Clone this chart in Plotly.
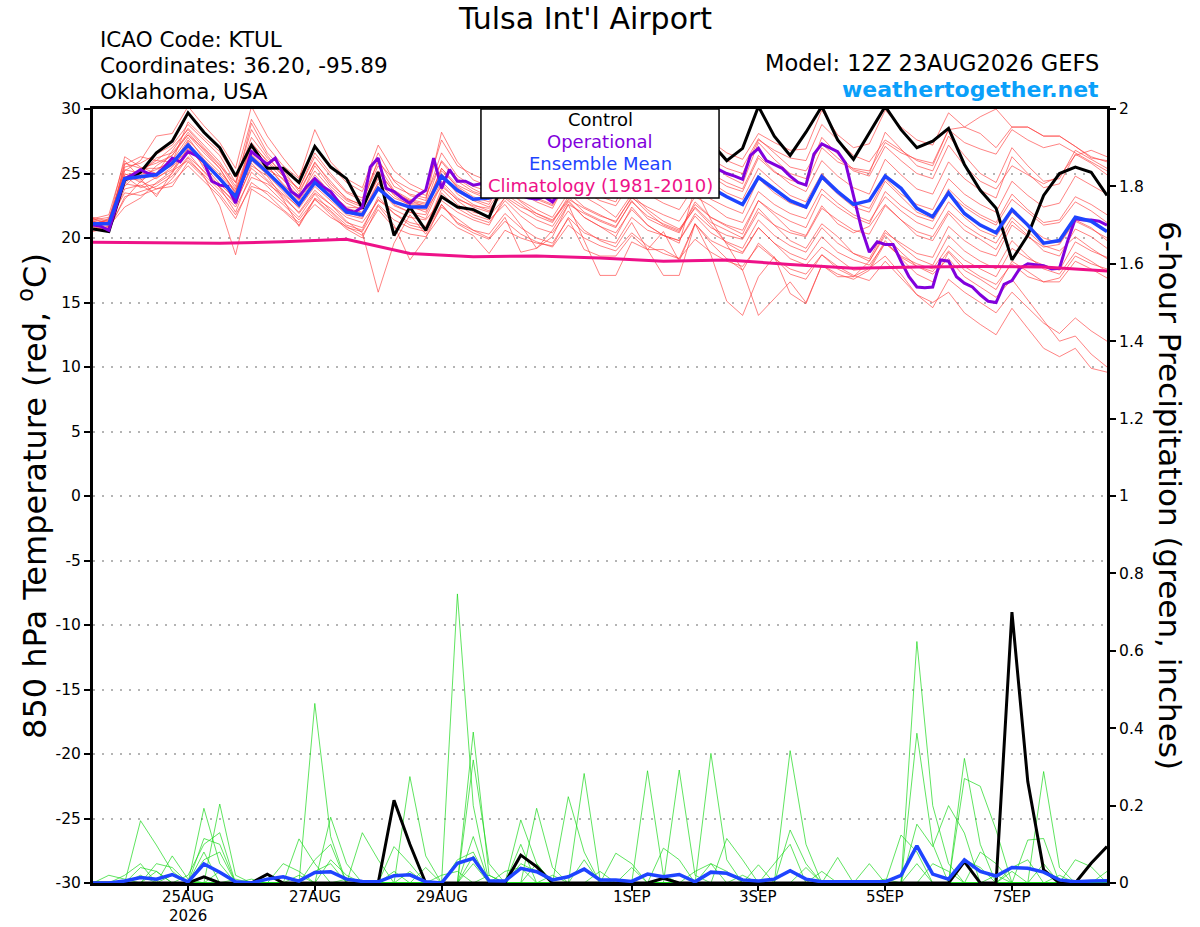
import pandas as pd
import plotly.graph_objects as go

# time axes (GEFS 6-hourly, operational 3-hourly, climatology daily)
times6 = pd.date_range("2026-08-23 12:00", periods=65, freq="6h")
times3 = pd.date_range("2026-08-23 12:00", periods=129, freq="3h")
times_clim = pd.date_range("2026-08-23 12:00", periods=17, freq="D")

tick_dates = ["2026-08-25", "2026-08-27", "2026-08-29", "2026-09-01",
              "2026-09-03", "2026-09-05", "2026-09-07"]
tick_labels = ["25AUG", "27AUG", "29AUG", "1SEP", "3SEP", "5SEP", "7SEP"]
year_label = "2026"
temp_ticks = [-30, -25, -20, -15, -10, -5, 0, 5, 10, 15, 20, 25, 30]
pcp_ticks = [0, 0.2, 0.4, 0.6, 0.8, 1, 1.2, 1.4, 1.6, 1.8, 2]

# 850 hPa temperature (C)
control_t = [20.7, 20.5, 24.5, 25.1, 26.6, 27.5, 29.7, 28.2, 27.0, 24.8, 27.2, 25.4, 25.4,
             24.3, 27.1, 25.5, 24.6, 22.3, 25.1, 20.2, 22.4, 20.6, 23.2, 22.4, 22.2, 21.6,
             24.6, 25.5, 26.2, 25.0, 26.8, 27.3, 25.8, 26.4, 27.4, 26.3, 25.7, 27.5, 27.3,
             27.4, 26.0, 26.95, 30.2, 27.9, 26.4, 28.2, 30.2, 27.6, 26.1, 28.1, 30.2, 28.4,
             27.0, 27.5, 28.5, 25.7, 23.7, 22.3, 18.3, 20.2, 23.3, 25.0, 25.5, 25.1, 23.3]

oper_t = [21.0, 20.9, 20.6, 22.6, 24.6, 24.9, 25.3, 25.0, 24.9, 25.5, 26.2, 25.9, 26.7,
          26.4, 25.9, 24.4, 24.1, 24.0, 22.7, 24.7, 26.7, 26.2, 25.7, 26.2, 25.0, 23.6,
          23.2, 24.0, 24.6, 24.0, 23.6, 22.8, 22.2, 22.0, 22.4, 25.5, 26.2, 23.85, 23.6,
          23.1, 22.7, 23.3, 23.7, 26.2, 23.85, 25.3, 24.4, 24.4, 24.1, 24.2, 24.0, 23.8,
          23.6, 23.5, 23.3, 23.1, 23.0, 23.2, 22.8,
          23.6, 24.3, 24.8, 24.4, 24.0, 23.8, 24.6, 25.3, 25.0, 24.6, 24.2, 24.0, 24.9,
          25.6, 25.2, 24.8, 24.5, 24.4, 25.2, 25.8, 25.3,
          25.0, 24.8, 24.55, 26.4, 26.95, 26.0, 25.7, 25.4, 24.8, 24.3, 24.1, 26.5, 27.3,
          27.0, 26.7, 25.8, 23.3, 20.75, 18.9, 19.7, 19.5, 19.5, 18.2, 17.0, 16.2, 16.15,
          16.2, 18.3, 18.2, 17.0, 16.5, 16.2, 15.6, 15.1, 15.0, 16.4, 16.7, 17.65, 18.0,
          17.9, 17.85, 17.6, 17.65, 19.7, 21.5, 21.4, 21.4, 21.3, 21.0]

mean_t = [21.1, 21.1, 24.6, 24.75, 24.9, 25.8, 27.2, 25.9, 24.6, 23.2, 26.2, 25.1, 23.9,
          22.6, 24.3, 23.2, 22.0, 21.8, 23.85, 22.8, 22.4, 22.4, 24.8, 23.7, 23.0, 23.1,
          23.5, 24.0, 24.3, 23.8, 24.5, 24.8, 24.2, 24.0, 24.6, 24.3, 23.8, 24.2, 24.5,
          23.9, 23.2, 22.6, 24.7, 23.8, 22.9, 22.4, 24.75, 23.6, 22.6, 22.9, 24.8, 23.85,
          22.3, 21.65, 23.5, 21.9, 21.0, 20.4, 22.2, 21.0, 19.6, 19.8, 21.6, 21.3, 20.5]

clim_t = [19.67, 19.65, 19.6, 19.7, 19.9, 18.8, 18.55, 18.6, 18.45, 18.2, 18.3, 17.95,
          17.65, 17.75, 17.8, 17.75, 17.45]

# ensemble members, temperature
t_m01 = [21.3, 21.0, 25.5, 25.8, 26.5, 27.2, 28.8, 27.6, 26.4, 24.3, 27.8, 26.2, 25.0, 23.8, 26.3, 24.8,
         23.5, 22.9, 25.6, 23.7, 23.0, 22.7, 26.0, 24.6, 23.8, 23.2, 25.4, 24.8, 24.0, 23.5, 26.2, 25.3,
         24.4, 24.0, 26.6, 25.2, 24.3, 24.8, 27.0, 25.9, 24.8, 24.2, 27.4, 26.1, 25.0, 24.6, 27.8, 26.5,
         25.3, 25.0, 28.2, 26.9, 25.6, 25.2, 27.9, 26.4, 25.0, 24.3, 27.0, 25.6, 24.4, 24.6, 26.8, 26.1, 25.4]
t_m02 = [20.6, 20.9, 23.8, 24.1, 23.4, 24.6, 26.2, 24.8, 22.5, 18.7, 23.8, 23.0, 22.1, 21.0, 23.1, 22.3,
         21.2, 20.8, 23.0, 21.9, 21.0, 20.7, 23.8, 22.6, 21.8, 21.4, 22.6, 21.0, 19.2, 20.6, 22.6, 21.9,
         21.3, 20.8, 22.9, 21.5, 20.9, 20.4, 22.8, 21.6, 20.9, 20.3, 22.9, 21.8, 20.6, 20.2, 22.5, 21.1,
         20.4, 20.9, 22.6, 21.4, 20.2, 19.8, 21.9, 20.6, 19.9, 19.1, 21.3, 20.2, 19.0, 18.6, 20.7, 20.1, 19.2]
t_m03 = [21.5, 21.8, 26.0, 24.6, 23.2, 25.1, 27.5, 25.4, 24.0, 22.6, 25.6, 24.8, 23.1, 22.0, 23.7, 22.6,
         21.3, 20.4, 15.8, 19.6, 21.8, 20.3, 22.4, 21.5, 20.6, 20.0, 21.6, 18.9, 19.2, 20.1, 22.6, 19.8,
         17.1, 17.1, 19.7, 19.1, 20.5, 18.2, 21.1, 19.6, 18.4, 17.5, 19.6, 18.5, 17.2, 16.8, 18.7, 17.6,
         17.0, 17.65, 19.8, 18.4, 17.2, 16.6, 18.9, 17.5, 16.8, 16.0, 18.2, 17.4, 16.6, 16.9, 18.6, 18.0, 17.6]
t_m04 = [21.0, 21.4, 25.2, 26.0, 27.9, 28.1, 30.2, 28.7, 27.4, 25.4, 30.2, 27.9, 26.2, 24.7, 27.0, 25.6,
         24.3, 23.6, 26.6, 24.4, 23.3, 22.9, 28.2, 25.9, 24.5, 24.0, 27.2, 26.0, 25.1, 24.7, 27.8, 26.6,
         25.4, 25.0, 28.3, 27.0, 25.9, 25.3, 28.6, 27.5, 26.6, 26.1, 28.1, 27.4, 26.8, 26.9, 29.9, 28.0,
         27.0, 27.3, 29.9, 28.6, 27.6, 27.2, 29.7, 28.6, 28.1, 27.0, 28.6, 28.6, 27.9, 27.9, 27.1, 26.2, 26.0]
t_m05 = [20.9, 20.7, 24.4, 24.9, 25.3, 26.0, 27.8, 26.1, 24.9, 23.6, 26.8, 25.6, 24.2, 22.9, 24.6, 23.4,
         22.3, 22.0, 24.3, 23.1, 22.6, 22.4, 25.2, 24.0, 23.2, 22.8, 24.6, 23.9, 23.0, 22.5, 24.4, 23.2,
         22.5, 21.6, 23.4, 22.2, 21.3, 20.7, 22.3, 21.0, 19.6, 18.9, 20.8, 19.6, 18.4, 17.9, 19.3, 18.4,
         17.5, 17.65, 18.6, 17.2, 15.6, 15.0, 15.8, 14.2, 13.3, 12.5, 14.55, 13.0, 11.45, 10.8, 11.45, 9.9, 9.6]
t_m06 = [21.2, 21.1, 24.9, 25.1, 24.6, 25.5, 26.9, 25.8, 24.5, 22.9, 26.0, 24.9, 23.6, 22.3, 24.0, 22.9,
         21.8, 21.5, 23.9, 22.5, 22.0, 21.8, 24.4, 23.1, 22.4, 22.0, 23.8, 22.9, 22.2, 21.6, 23.5, 22.4,
         21.8, 21.2, 23.2, 22.0, 21.0, 20.5, 22.4, 21.2, 20.6, 20.0, 22.3, 21.0, 19.8, 19.2, 21.1, 20.1,
         18.8, 18.2, 20.2, 18.9, 17.8, 17.2, 18.4, 17.0, 16.2, 15.4, 16.8, 15.2, 13.6, 12.0, 12.4, 11.0, 10.0]
t_m07 = [21.4, 21.6, 25.0, 24.3, 25.6, 26.4, 28.0, 26.6, 25.4, 23.4, 27.4, 25.9, 24.5, 23.2, 25.2, 23.8,
         22.7, 22.2, 24.8, 23.3, 22.5, 22.0, 25.0, 23.4, 22.6, 22.1, 23.9, 22.8, 21.9, 21.3, 22.9, 21.6,
         20.9, 20.1, 22.4, 21.0, 20.2, 19.6, 23.9, 21.4, 19.5, 17.5, 14.0, 15.3, 16.6, 15.0, 17.9, 17.2,
         16.8, 17.5, 19.6, 18.6, 18.0, 17.6, 19.4, 18.3, 17.6, 17.0, 19.2, 18.4, 17.9, 17.5, 19.7, 19.0, 18.5]
t_m08 = [20.8, 20.6, 23.2, 23.6, 24.0, 24.8, 26.3, 25.2, 23.9, 22.0, 25.1, 24.0, 22.8, 21.6, 23.4, 22.1,
         21.0, 20.6, 23.2, 21.9, 21.2, 20.9, 23.5, 22.3, 21.6, 21.2, 22.9, 21.7, 20.8, 20.4, 22.1, 20.6,
         19.8, 19.3, 21.2, 19.1, 19.1, 18.4, 21.1, 18.7, 15.1, 14.0, 17.0, 18.55, 15.7, 14.9, 17.9, 17.0,
         17.0, 18.2, 20.4, 19.6, 18.8, 18.5, 20.9, 19.8, 19.0, 18.6, 21.0, 20.1, 19.3, 19.5, 21.3, 20.7, 20.0]
t_m09 = [21.6, 21.3, 26.3, 25.5, 25.0, 26.8, 28.5, 27.2, 25.9, 24.0, 28.9, 26.6, 25.3, 23.6, 25.8, 24.4,
         23.0, 22.6, 26.1, 24.0, 23.4, 23.1, 26.6, 24.8, 24.0, 23.6, 25.8, 25.0, 24.4, 24.0, 26.4, 25.3,
         24.6, 24.2, 26.1, 25.2, 24.5, 24.1, 26.0, 25.0, 24.3, 23.8, 26.4, 25.2, 24.2, 23.6, 26.0, 24.8,
         23.9, 23.4, 26.1, 24.9, 23.8, 23.4, 25.9, 24.6, 23.7, 23.1, 26.3, 25.0, 23.9, 24.2, 26.5, 25.8, 24.9]
t_m10 = [21.0, 20.9, 22.4, 23.1, 24.3, 25.2, 26.0, 24.9, 23.7, 22.4, 24.7, 24.2, 23.3, 21.9, 23.5, 22.6,
         21.6, 21.2, 22.9, 22.2, 21.6, 21.4, 22.9, 22.0, 21.4, 21.0, 23.2, 22.4, 21.9, 21.4, 23.0, 22.3,
         21.7, 21.3, 23.1, 22.4, 21.8, 21.3, 23.2, 22.5, 21.6, 21.2, 23.6, 22.6, 21.9, 21.5, 23.8, 22.7,
         21.8, 21.3, 23.2, 22.1, 21.2, 20.7, 22.8, 21.6, 20.6, 20.1, 22.0, 20.9, 20.0, 19.6, 21.4, 20.8, 19.8]
t_m11 = [21.1, 21.5, 24.0, 25.2, 26.0, 27.0, 28.4, 27.0, 25.7, 23.8, 27.3, 26.0, 24.8, 23.4, 25.9, 24.2,
         23.1, 22.5, 25.2, 23.6, 22.9, 22.4, 25.4, 24.1, 23.5, 23.0, 25.0, 24.0, 23.1, 22.6, 24.9, 23.8,
         23.2, 22.8, 25.3, 24.2, 23.6, 23.1, 25.8, 24.8, 24.0, 23.6, 26.2, 25.1, 24.5, 24.1, 27.0, 25.9,
         25.4, 25.2, 27.4, 26.6, 26.1, 25.8, 28.4, 28.6, 29.4, 30.0, 28.6, 28.6, 27.9, 27.9, 27.1, 26.3, 25.9]
t_m12 = [20.7, 21.2, 24.8, 23.9, 24.2, 25.0, 27.0, 25.6, 24.2, 23.0, 25.8, 24.5, 23.4, 22.4, 24.7, 23.2,
         22.1, 21.9, 24.2, 22.8, 22.3, 22.2, 24.0, 23.0, 22.5, 22.3, 23.4, 22.6, 21.7, 21.2, 23.2, 22.0,
         21.4, 20.9, 22.8, 21.7, 21.1, 20.6, 22.6, 21.6, 21.0, 20.6, 22.9, 22.0, 21.3, 20.8, 23.4, 22.4,
         21.6, 21.1, 23.6, 22.5, 21.7, 21.3, 23.4, 22.4, 21.6, 21.0, 23.0, 22.0, 21.0, 21.2, 22.8, 22.1, 21.2]
t_m13 = [21.3, 21.0, 25.7, 26.3, 26.0, 25.9, 29.0, 27.8, 26.7, 24.7, 29.2, 27.1, 25.6, 24.6, 28.4, 25.9,
         24.6, 23.9, 27.2, 25.2, 24.2, 23.6, 27.6, 25.6, 24.9, 24.4, 27.6, 26.2, 25.4, 25.0, 27.9, 26.8,
         25.9, 25.4, 28.2, 27.1, 26.2, 25.7, 28.4, 27.1, 26.0, 25.5, 27.7, 26.6, 25.5, 25.2, 27.3, 26.2,
         25.2, 24.8, 27.1, 26.0, 25.0, 24.6, 27.2, 25.6, 24.4, 23.8, 25.6, 24.9, 24.2, 24.8, 26.4, 26.8, 26.3]
t_m14 = [20.5, 20.8, 24.2, 24.0, 24.7, 25.3, 26.6, 25.1, 23.9, 22.8, 25.4, 24.4, 23.0, 20.9, 23.0, 22.0,
         20.8, 20.5, 22.6, 21.4, 20.8, 20.5, 22.6, 21.1, 20.4, 19.9, 21.3, 20.3, 19.7, 19.3, 21.0, 20.0,
         19.4, 19.0, 20.4, 19.4, 18.8, 18.4, 19.9, 18.9, 18.2, 17.8, 19.4, 18.4, 17.6, 17.2, 18.7, 17.8,
         17.1, 16.7, 18.2, 16.9, 15.6, 14.6, 16.8, 15.8, 15.0, 14.2, 15.8, 14.6, 13.4, 12.6, 13.8, 12.8, 12.0]
t_m15 = [21.4, 21.2, 25.3, 25.0, 26.2, 26.6, 28.0, 26.9, 25.6, 24.3, 28.4, 26.4, 24.8, 23.8, 26.6, 25.0,
         23.6, 23.1, 25.9, 24.5, 23.8, 23.3, 25.9, 24.4, 23.6, 23.2, 25.2, 24.4, 23.6, 23.0, 25.6, 24.5,
         23.8, 23.4, 25.6, 24.6, 23.9, 23.4, 25.4, 24.3, 23.5, 23.0, 25.4, 24.3, 23.3, 22.8, 25.0, 23.6,
         22.7, 22.3, 24.6, 23.4, 22.6, 22.2, 24.6, 23.4, 22.6, 22.0, 24.4, 23.3, 22.4, 22.7, 24.8, 24.1, 23.4]
t_m16 = [21.0, 21.3, 23.5, 23.3, 23.8, 24.3, 25.6, 24.4, 23.2, 21.5, 24.3, 23.4, 22.2, 21.2, 22.6, 21.6,
         20.9, 20.2, 22.2, 20.8, 20.3, 20.1, 21.8, 20.8, 20.2, 18.8, 20.6, 20.0, 19.6, 19.4, 21.6, 20.4,
         19.9, 19.6, 21.6, 20.6, 20.2, 19.8, 21.9, 20.8, 20.2, 19.9, 22.0, 21.0, 20.4, 20.1, 22.3, 21.4,
         20.6, 20.3, 22.5, 21.4, 20.5, 20.1, 22.1, 21.0, 20.2, 19.6, 21.6, 20.5, 19.4, 19.0, 20.1, 19.2, 18.4]
t_m17 = [21.2, 21.0, 25.8, 25.4, 25.8, 26.4, 28.2, 26.8, 25.4, 23.5, 27.1, 25.6, 24.1, 23.0, 25.6, 24.0,
         22.9, 22.4, 25.1, 23.6, 22.7, 22.5, 25.4, 23.9, 23.0, 22.6, 24.9, 24.2, 23.6, 23.3, 25.9, 24.9,
         24.3, 23.9, 26.6, 25.4, 24.8, 24.4, 27.2, 26.1, 25.4, 25.0, 27.6, 26.8, 26.2, 26.0, 28.8, 27.6,
         26.4, 25.9, 27.6, 26.8, 26.0, 25.6, 28.4, 27.4, 26.9, 26.5, 28.4, 27.6, 27.0, 27.3, 26.6, 25.9, 25.2]
t_m18 = [20.9, 21.5, 24.6, 24.5, 25.0, 25.6, 27.3, 25.9, 24.6, 23.1, 26.4, 25.2, 23.8, 22.6, 24.5, 23.1,
         22.0, 21.6, 24.0, 22.6, 22.0, 21.5, 24.2, 22.9, 22.0, 21.7, 23.1, 22.1, 21.4, 20.9, 22.8, 21.6,
         20.9, 20.4, 22.2, 21.0, 20.2, 19.8, 21.7, 20.4, 19.7, 19.2, 21.4, 20.2, 19.4, 18.9, 20.8, 19.6,
         18.8, 18.4, 20.6, 19.4, 18.4, 17.9, 20.2, 19.0, 18.2, 17.6, 19.8, 18.6, 17.6, 17.2, 18.9, 18.2, 17.4]
t_m19 = [21.5, 21.1, 24.2, 25.4, 25.4, 25.7, 27.6, 26.3, 25.1, 23.7, 26.5, 25.3, 24.6, 23.0, 24.9, 23.5,
         22.4, 22.3, 24.6, 23.4, 22.9, 22.6, 24.7, 23.6, 22.9, 22.4, 24.2, 23.5, 22.8, 22.3, 24.6, 23.6,
         22.9, 22.5, 24.4, 23.4, 22.7, 22.2, 24.1, 23.0, 22.4, 21.9, 24.6, 23.5, 22.7, 22.3, 24.6, 23.4,
         22.4, 22.0, 24.4, 23.2, 22.0, 21.5, 23.8, 22.6, 21.8, 21.2, 23.4, 22.2, 21.2, 21.4, 23.2, 22.6, 21.8]
t_m20 = [20.7, 20.8, 23.0, 24.4, 23.8, 24.0, 25.9, 24.7, 23.4, 21.8, 24.0, 23.6, 22.6, 21.4, 23.0, 21.8,
         20.7, 20.0, 22.5, 21.0, 18.3, 20.0, 22.6, 21.2, 20.6, 20.3, 21.9, 20.8, 20.0, 19.6, 21.5, 19.1,
         18.6, 18.6, 20.2, 19.1, 17.1, 17.1, 21.1, 19.8, 19.2, 18.8, 20.8, 19.6, 18.8, 18.3, 20.1, 18.9,
         18.3, 17.9, 19.6, 18.5, 17.8, 17.4, 19.0, 17.8, 17.0, 16.4, 18.0, 17.0, 16.6, 16.6, 18.2, 17.6, 16.9]

# 6-hour precipitation (inches)
control_p = [0, 0, 0, 0, 0, 0, 0, 0.016, 0, 0, 0, 0.023, 0,
             0, 0, 0, 0, 0, 0, 0.214, 0.10, 0, 0, 0, 0, 0,
             0, 0.072, 0.042, 0, 0, 0, 0, 0, 0, 0, 0.012, 0, 0,
             0, 0, 0, 0, 0, 0, 0, 0, 0, 0, 0, 0, 0,
             0, 0, 0, 0.055, 0, 0, 0.70, 0.262, 0.034, 0, 0, 0.051, 0.094]
mean_p = [0, 0, 0.005, 0.014, 0.01, 0.022, 0.003, 0.049, 0.028, 0.003, 0, 0.01, 0.016,
          0.005, 0.027, 0.029, 0.01, 0.004, 0.003, 0.019, 0.021, 0.003, 0, 0.051, 0.064, 0.006,
          0.005, 0.038, 0.029, 0.008, 0.016, 0.036, 0.008, 0.008, 0.004, 0.023, 0.016, 0.022, 0.003,
          0.028, 0.025, 0.008, 0.005, 0.01, 0.032, 0.01, 0.003, 0.003, 0.003, 0.004, 0.003, 0.02,
          0.096, 0.023, 0.01, 0.06, 0.03, 0.018, 0.04, 0.038, 0.028, 0.008, 0.003, 0.005, 0.006]

p_m01 = [0, 0, 0, 0.161, 0.098, 0.03, 0, 0, 0, 0, 0, 0, 0,
         0, 0.464, 0.12, 0, 0, 0, 0, 0, 0, 0, 0.747, 0.2, 0,
         0, 0, 0, 0, 0, 0, 0, 0, 0, 0, 0, 0, 0,
         0.335, 0.06, 0, 0, 0, 0, 0, 0, 0, 0, 0, 0, 0,
         0.624, 0.2, 0.05, 0, 0, 0, 0, 0, 0, 0, 0, 0, 0]
p_m02 = [0, 0, 0, 0, 0, 0, 0, 0.193, 0.05, 0, 0, 0, 0,
         0.114, 0.05, 0, 0, 0, 0, 0, 0.275, 0.07, 0, 0, 0.39, 0.02,
         0, 0, 0, 0, 0, 0.283, 0.01, 0, 0, 0, 0, 0, 0,
         0, 0, 0, 0, 0, 0.342, 0.1, 0, 0, 0, 0, 0, 0,
         0.387, 0.1, 0, 0, 0, 0, 0, 0, 0.288, 0.04, 0, 0, 0]
p_m03 = [0, 0, 0, 0, 0, 0, 0, 0, 0.204, 0.02, 0, 0, 0,
         0, 0, 0.17, 0.05, 0, 0, 0, 0, 0, 0, 0, 0.318, 0.05,
         0, 0.163, 0.05, 0, 0, 0, 0, 0, 0, 0.29, 0.02, 0, 0,
         0, 0, 0, 0, 0, 0, 0, 0, 0, 0, 0, 0, 0,
         0, 0, 0, 0.322, 0.1, 0, 0, 0, 0, 0, 0, 0, 0]
p_m04 = [0, 0, 0.02, 0.05, 0, 0, 0, 0.115, 0.1, 0, 0, 0, 0,
         0, 0, 0, 0, 0.13, 0.06, 0, 0, 0, 0, 0, 0, 0,
         0, 0, 0.193, 0.04, 0, 0, 0, 0, 0, 0, 0, 0.292, 0.02,
         0, 0, 0, 0, 0, 0, 0, 0, 0, 0, 0, 0, 0,
         0, 0, 0, 0.27, 0.25, 0.137, 0, 0, 0, 0, 0, 0, 0]
p_m05 = [0, 0, 0, 0, 0, 0.07, 0.01, 0, 0, 0, 0, 0, 0,
         0, 0.06, 0.1, 0, 0, 0, 0.094, 0.05, 0, 0, 0, 0.12, 0,
         0, 0.1, 0, 0, 0.223, 0.08, 0, 0, 0, 0, 0, 0, 0,
         0, 0, 0, 0, 0, 0.137, 0.05, 0, 0, 0, 0, 0, 0,
         0.152, 0.094, 0.2, 0.129, 0, 0, 0, 0, 0, 0, 0, 0, 0]
p_m06 = [0, 0, 0, 0, 0.05, 0.04, 0, 0.08, 0, 0, 0, 0, 0.05,
         0.03, 0, 0, 0, 0, 0, 0, 0, 0, 0, 0.06, 0.08, 0,
         0, 0, 0, 0, 0, 0, 0, 0.077, 0.05, 0, 0, 0, 0,
         0, 0.115, 0.06, 0, 0, 0, 0, 0, 0.066, 0, 0, 0, 0,
         0, 0, 0, 0, 0, 0, 0, 0.111, 0.115, 0, 0, 0, 0]
p_m07 = [0, 0, 0, 0.04, 0.03, 0, 0, 0, 0, 0, 0, 0.02, 0,
         0, 0, 0.06, 0.02, 0, 0, 0, 0, 0, 0, 0, 0.07, 0,
         0, 0, 0.05, 0, 0, 0, 0, 0, 0, 0, 0.09, 0.06, 0,
         0, 0, 0, 0, 0.05, 0.1, 0, 0, 0, 0, 0.05, 0, 0,
         0, 0, 0, 0, 0.08, 0.05, 0, 0, 0, 0, 0.06, 0.042, 0]
p_m08 = [0, 0, 0, 0, 0, 0, 0, 0.06, 0.08, 0, 0, 0, 0,
         0, 0, 0, 0, 0, 0, 0, 0.03, 0, 0, 0, 0, 0,
         0, 0.05, 0.03, 0, 0, 0, 0, 0, 0, 0, 0, 0, 0,
         0.05, 0.03, 0, 0, 0, 0, 0, 0, 0, 0, 0, 0, 0.124,
         0.08, 0, 0, 0, 0, 0, 0.04, 0.06, 0, 0, 0, 0, 0.03]
p_m09 = [0, 0.02, 0.01, 0, 0, 0, 0.02, 0.1, 0.13, 0, 0, 0, 0,
         0, 0.03, 0.05, 0, 0, 0, 0, 0, 0, 0.02, 0.03, 0, 0,
         0, 0, 0, 0, 0, 0, 0, 0, 0.04, 0, 0, 0, 0,
         0, 0, 0, 0.047, 0, 0, 0, 0, 0, 0, 0, 0, 0,
         0, 0, 0, 0.06, 0.04, 0, 0, 0, 0, 0, 0, 0, 0]
p_m10 = [0, 0, 0, 0.02, 0, 0, 0, 0, 0.03, 0, 0, 0, 0,
         0.02, 0, 0, 0, 0, 0, 0, 0, 0.04, 0, 0, 0, 0,
         0.03, 0.04, 0, 0, 0, 0.06, 0, 0, 0, 0, 0, 0, 0.03,
         0.05, 0, 0, 0, 0, 0, 0, 0.03, 0, 0, 0, 0, 0,
         0, 0.05, 0.03, 0, 0, 0, 0, 0, 0.05, 0, 0, 0, 0]
p_m11 = [0, 0, 0, 0, 0, 0.02, 0, 0, 0, 0.01, 0, 0, 0,
         0, 0, 0, 0.01, 0, 0, 0, 0, 0, 0, 0, 0.05, 0,
         0, 0, 0, 0.02, 0, 0, 0, 0, 0, 0, 0, 0, 0,
         0, 0, 0.02, 0, 0, 0, 0, 0, 0, 0, 0, 0.01, 0,
         0, 0, 0, 0, 0, 0.02, 0, 0, 0, 0.02, 0, 0, 0]
p_m12 = [0, 0, 0, 0, 0.03, 0, 0, 0, 0, 0, 0.01, 0, 0,
         0, 0, 0, 0, 0, 0, 0.03, 0, 0, 0, 0, 0, 0.02,
         0, 0, 0, 0, 0, 0, 0.03, 0, 0, 0, 0, 0, 0,
         0, 0, 0, 0, 0, 0, 0.04, 0, 0, 0, 0, 0, 0,
         0.05, 0, 0, 0, 0, 0, 0.03, 0, 0, 0, 0, 0, 0]

temp_members = [t_m01, t_m02, t_m03, t_m04, t_m05, t_m06, t_m07, t_m08, t_m09, t_m10,
                t_m11, t_m12, t_m13, t_m14, t_m15, t_m16, t_m17, t_m18, t_m19, t_m20]
pcp_members = [p_m01, p_m02, p_m03, p_m04, p_m05, p_m06, p_m07, p_m08, p_m09, p_m10,
               p_m11, p_m12]

for s in temp_members + pcp_members + [control_t, mean_t, control_p, mean_p]:
    assert len(s) == 65, len(s)
assert len(oper_t) == 129, len(oper_t)

RED = "rgba(255,60,60,0.8)"
GREEN = "rgba(20,215,20,0.85)"
BLACK = "#000000"
PURPLE = "#8200DC"
BLUE = "#1E44FF"
PINK = "#EE1188"
FONT = "DejaVu Sans, Liberation Sans, Arial, sans-serif"

fig = go.Figure()

for m in temp_members:
    fig.add_trace(go.Scatter(x=times6, y=m, mode="lines",
                             line=dict(color=RED, width=0.8), hoverinfo="skip"))
for m in pcp_members:
    fig.add_trace(go.Scatter(x=times6, y=m, mode="lines", yaxis="y2",
                             line=dict(color=GREEN, width=0.8), hoverinfo="skip"))

fig.add_trace(go.Scatter(x=times6, y=control_t, mode="lines", line=dict(color=BLACK, width=3)))
fig.add_trace(go.Scatter(x=times3, y=oper_t, mode="lines", line=dict(color=PURPLE, width=3)))
fig.add_trace(go.Scatter(x=times6, y=mean_t, mode="lines", line=dict(color=BLUE, width=3.5)))
fig.add_trace(go.Scatter(x=times_clim, y=clim_t, mode="lines", line=dict(color=PINK, width=3)))

fig.add_trace(go.Scatter(x=times6, y=control_p, mode="lines", yaxis="y2",
                         line=dict(color=BLACK, width=3)))
fig.add_trace(go.Scatter(x=times6, y=mean_p, mode="lines", yaxis="y2",
                         line=dict(color=BLUE, width=3.5)))

fig.update_layout(
    width=1200, height=927,
    margin=dict(l=93, r=93, t=109, b=44),
    paper_bgcolor="white", plot_bgcolor="white",
    showlegend=False,
    font=dict(family=FONT, size=15, color="black"),
    xaxis=dict(type="date", range=[times6[0], times6[-1]], automargin=False,
               tickvals=tick_dates, showticklabels=False,
               ticks="outside", ticklen=5, tickwidth=1.5, tickcolor="black",
               showline=True, linewidth=3, linecolor="black", mirror=True,
               showgrid=False, zeroline=False),
    yaxis=dict(range=[-30, 30], tickvals=temp_ticks, automargin=False,
               ticktext=[str(v) for v in temp_ticks],
               ticks="outside", ticklen=6, tickwidth=1.5, tickcolor="black",
               showline=True, linewidth=3, linecolor="black",
               showgrid=True, gridcolor="#B4B4B4", griddash="2px,7px", gridwidth=1.5,
               zeroline=False, tickfont=dict(size=15.5)),
    yaxis2=dict(overlaying="y", side="right", range=[0, 2], tickvals=pcp_ticks,
                automargin=False, ticktext=[f"{v:g}" for v in pcp_ticks],
                ticks="outside", ticklen=6, tickwidth=1.5, tickcolor="black",
                showline=True, linewidth=3, linecolor="black",
                showgrid=False, zeroline=False, tickfont=dict(size=15.5)),
)

# date labels under the ticks, year on a second row under the first one
for d, lab in zip(tick_dates, tick_labels):
    fig.add_annotation(text=lab, x=d, y=-0.0181, xref="x", yref="paper",
                       xanchor="center", yanchor="middle", showarrow=False,
                       font=dict(size=15, family=FONT))
fig.add_annotation(text=year_label, x=tick_dates[0], y=-0.0426, xref="x", yref="paper",
                   xanchor="center", yanchor="middle", showarrow=False,
                   font=dict(size=15, family=FONT))

# legend box drawn over the lines
fig.add_shape(type="rect", xref="paper", yref="paper",
              x0=0.3826, x1=0.6174, y0=0.885, y1=1.0,
              fillcolor="white", line=dict(color="black", width=1.5), layer="above")
legend_items = [("Control", BLACK, 0.9858), ("Operational", PURPLE, 0.9574),
                ("Ensemble Mean", BLUE, 0.9302), ("Climatology (1981-2010)", PINK, 0.9018)]
for txt, col, yy in legend_items:
    fig.add_annotation(text=txt, x=0.5, y=yy, xref="paper", yref="paper",
                       xanchor="center", yanchor="middle", showarrow=False,
                       font=dict(size=18, color=col, family=FONT))

# header texts
fig.add_annotation(text="Tulsa Int'l Airport", x=0.485, y=1.1163, xref="paper", yref="paper",
                   xanchor="center", yanchor="middle", showarrow=False,
                   font=dict(size=30, family=FONT))
for txt, yy in [("ICAO Code: KTUL", 1.0904), ("Coordinates: 36.20, -95.89", 1.0568),
                ("Oklahoma, USA", 1.0220)]:
    fig.add_annotation(text=txt, x=0.005, y=yy, xref="paper", yref="paper",
                       xanchor="left", yanchor="middle", showarrow=False,
                       font=dict(size=21.5, family=FONT))
fig.add_annotation(text="Model: 12Z 23AUG2026 GEFS", x=0.9941, y=1.0594, xref="paper",
                   yref="paper", xanchor="right", yanchor="middle", showarrow=False,
                   font=dict(size=22.5, family=FONT))
fig.add_annotation(text="<b>weathertogether.net</b>", x=0.9941, y=1.0258, xref="paper",
                   yref="paper", xanchor="right", yanchor="middle", showarrow=False,
                   font=dict(size=22, color="#0AA0FA", family=FONT))

# axis titles
fig.add_annotation(text="850 hPa Temperature (red, <sup>o</sup>C)", x=-0.0592, y=0.5,
                   xref="paper", yref="paper", textangle=-90, showarrow=False,
                   xanchor="center", yanchor="middle", font=dict(size=32, family=FONT))
fig.add_annotation(text="6-hour Precipitation (green, inches)", x=1.0621, y=0.5,
                   xref="paper", yref="paper", textangle=90, showarrow=False,
                   xanchor="center", yanchor="middle", font=dict(size=31, family=FONT))

# drop the default page margin so the figure sits at the window's corner
fig.write_html("out.html", config={"displayModeBar": False},
               post_script="document.body.style.margin='0px';")
